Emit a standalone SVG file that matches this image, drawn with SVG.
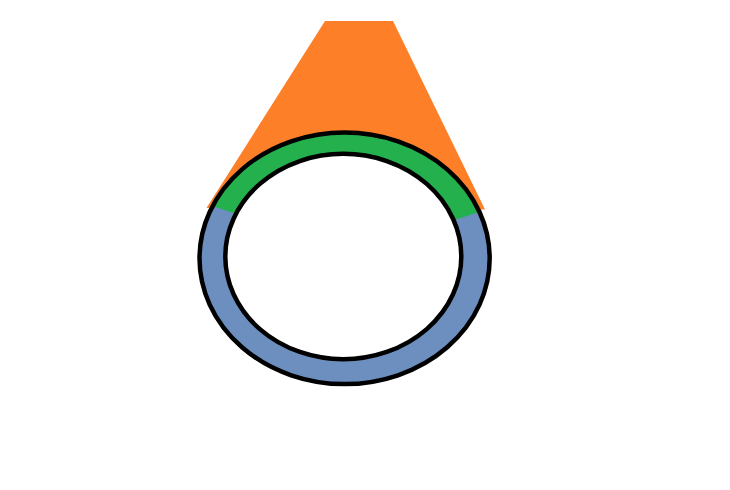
<svg xmlns="http://www.w3.org/2000/svg" width="730" height="490" viewBox="0 0 730 490">
  <defs>
    <clipPath id="topArc">
      <polygon points="270,226 190,198 190,100 500,100 498,206 415.5,232.5"/>
    </clipPath>
  </defs>
  <rect width="730" height="490" fill="#ffffff"/>
  <g id="beam">
    <polygon points="325,21 393,21 485,209.5 206.5,208" fill="#fd8028"/>
  </g>
  <g id="ring">
    <ellipse cx="344.6" cy="258.3" rx="145.1" ry="125.8" fill="#6c8fbf"/>
    <ellipse cx="344.6" cy="258.3" rx="145.1" ry="125.8" fill="#24b04d" clip-path="url(#topArc)"/>
    <ellipse cx="344.6" cy="258.3" rx="145.1" ry="125.8" fill="none" stroke="#000000" stroke-width="4.5"/>
    <ellipse cx="343.3" cy="256.5" rx="118" ry="102.7" fill="#ffffff" stroke="#000000" stroke-width="4.5"/>
  </g>
</svg>
